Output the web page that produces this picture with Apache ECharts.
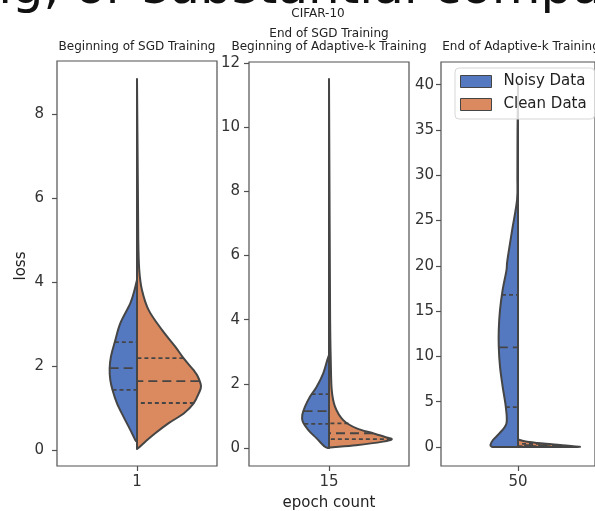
<!DOCTYPE html>
<html>
<head>
<meta charset="utf-8">
<script src="https://cdn.jsdelivr.net/npm/echarts@6/dist/echarts.min.js"></script>
<style>
  html, body { margin: 0; padding: 0; background: #fff; }
  #main { width: 595px; height: 511px; }
</style>
</head>
<body>
<div id="main"></div>
<script>
// epochs and titles
const epochs = ['1', '15', '50'];
const panelTitles = [
  ['Beginning of SGD Training'],
  ['End of SGD Training', 'Beginning of Adaptive-k Training'],
  ['End of Adaptive-k Training']
];
const yTicks = [
  [0, 2, 4, 6, 8],
  [0, 2, 4, 6, 8, 10, 12],
  [0, 5, 10, 15, 20, 25, 30, 35, 40]
];

// violin profiles: loss levels and half widths (x-axis units, 1 = one category)
const noisyLoss1 = [0.2, 0.24, 0.48, 0.79, 1.11, 1.43, 1.67, 1.94, 2.22, 2.58, 3.02, 3.49, 3.8, 4.05];
const noisyWidth1 = [0, 0.011, 0.042, 0.084, 0.125, 0.153, 0.167, 0.171, 0.163, 0.138, 0.104, 0.042, 0.016, 0];
const cleanLoss1 = [0.03, 0.04, 0.2, 0.4, 0.64, 0.87, 1.11, 1.35, 1.52, 1.75, 1.9, 2.18, 2.46, 2.86, 3.33, 3.81, 4.29, 5.0, 6.5, 8.83];
const cleanWidth1 = [0, 0.006, 0.052, 0.114, 0.198, 0.292, 0.354, 0.386, 0.4, 0.38, 0.354, 0.292, 0.239, 0.156, 0.073, 0.031, 0.014, 0.008, 0.005, 0];

const noisyLoss2 = [0, 0.04, 0.3, 0.56, 0.82, 1.03, 1.29, 1.6, 1.91, 2.33, 2.74, 2.9];
const noisyWidth2 = [0, 0.025, 0.077, 0.129, 0.164, 0.167, 0.15, 0.119, 0.077, 0.036, 0.011, 0];
const cleanLoss2 = [0, 0.02, 0.09, 0.2, 0.27, 0.33, 0.46, 0.61, 0.87, 1.29, 1.81, 2.74, 4, 7, 11.5];
const cleanWidth2 = [0, 0.006, 0.169, 0.338, 0.392, 0.36, 0.275, 0.173, 0.089, 0.0375, 0.017, 0.011, 0.007, 0.004, 0];

const noisyLoss3 = [0, 0.22, 0.77, 1.5, 2.6, 4.4, 6.7, 8.9, 11.1, 12.9, 15.1, 17.3, 19.5, 20.6, 24.0, 27.3, 30, 35, 40.2];
const noisyWidth3 = [0.169, 0.179, 0.1625, 0.121, 0.075, 0.079, 0.1, 0.117, 0.125, 0.125, 0.117, 0.1, 0.075, 0.069, 0.0375, 0.006, 0.004, 0.003, 0];
const cleanLoss3 = [0, 0.03, 0.15, 0.3, 0.45, 0.6, 0.8, 0.9];
const cleanWidth3 = [0.38, 0.4, 0.31, 0.22, 0.125, 0.05, 0.006, 0];

// quartiles [q1, median, q3]
const noisyQuart = [[1.43, 1.95, 2.57], [0.75, 1.15, 1.68], [4.4, 11.0, 16.8]];
const cleanQuart = [[1.12, 1.64, 2.19], [0.28, 0.46, 0.77], [0.1, 0.2, 0.35]];

const BLUE = '#5479C1';
const ORANGE = '#DA8A5E';
const EDGE = '#454545';

const noisy = [[noisyLoss1, noisyWidth1], [noisyLoss2, noisyWidth2], [noisyLoss3, noisyWidth3]];
const clean = [[cleanLoss1, cleanWidth1], [cleanLoss2, cleanWidth2], [cleanLoss3, cleanWidth3]];

function widthAt(ys, ws, q) {
  for (let i = 0; i < ys.length - 1; i++) {
    if (q >= ys[i] && q <= ys[i + 1]) {
      const t = (q - ys[i]) / (ys[i + 1] - ys[i]);
      return ws[i] + t * (ws[i + 1] - ws[i]);
    }
  }
  return 0;
}

// smooth path through edge points (catmull-rom -> bezier)
function edgePath(p) {
  let d = '';
  for (let i = 0; i < p.length - 1; i++) {
    const p0 = p[Math.max(i - 1, 0)], p1 = p[i], p2 = p[i + 1], p3 = p[Math.min(i + 2, p.length - 1)];
    const c1 = [p1[0] + (p2[0] - p0[0]) / 6, p1[1] + (p2[1] - p0[1]) / 6];
    const c2 = [p2[0] - (p3[0] - p1[0]) / 6, p2[1] - (p3[1] - p1[1]) / 6];
    d += ' C' + c1[0] + ' ' + c1[1] + ' ' + c2[0] + ' ' + c2[1] + ' ' + p2[0] + ' ' + p2[1];
  }
  return d;
}

function violinHalf(ys, ws, side, quart, color) {
  return function (params, api) {
    const pts = ys.map((y, i) => api.coord([side * ws[i], y]));
    const b = api.coord([0, ys[0]]);
    const t = api.coord([0, ys[ys.length - 1]]);
    const d = 'M' + b[0] + ' ' + b[1] + ' L' + pts[0][0] + ' ' + pts[0][1] + edgePath(pts) +
      ' L' + t[0] + ' ' + t[1] + ' Z';
    const children = [{
      type: 'path',
      shape: { pathData: d },
      style: { fill: color, stroke: EDGE, lineWidth: 2, lineJoin: 'round' }
    }];
    quart.forEach((q, k) => {
      const w = widthAt(ys, ws, q);
      const a = api.coord([side * w, q]);
      const c = api.coord([0, q]);
      children.push({
        type: 'line',
        shape: { x1: a[0], y1: a[1], x2: c[0], y2: c[1] },
        style: { stroke: EDGE, lineWidth: 1.8, lineDash: k === 1 ? [9, 5] : [4, 3], fill: null }
      });
    });
    return { type: 'group', children: children };
  };
}

const grids = [
  { left: 57, top: 61, width: 160, height: 405, range: [-0.38, 9.26], margin: 13 },
  { left: 249, top: 62, width: 160, height: 404, range: [-0.56, 12.03], margin: 9 },
  { left: 441, top: 62, width: 160, height: 404, range: [-2.1, 42.5], margin: 7 }
];

const axisColor = '#505050';
const labelStyle = { color: '#333', fontSize: 15, fontFamily: 'DejaVu Sans' };

const option = {
  animation: false,
  grid: grids.map(g => ({
    left: g.left, top: g.top, width: g.width, height: g.height,
    show: true, borderColor: axisColor, borderWidth: 1.2, backgroundColor: 'transparent'
  })),
  xAxis: grids.map((g, i) => ({
    type: 'value', gridIndex: i, min: -0.5, max: 0.5, position: 'bottom',
    axisLine: { show: false, onZero: false },
    splitLine: { show: false },
    axisTick: { show: true, length: 5, customValues: [0], lineStyle: { color: axisColor, width: 1.2 } },
    axisLabel: Object.assign({ customValues: [0], margin: 9, formatter: () => epochs[i] }, labelStyle)
  })),
  yAxis: grids.map((g, i) => ({
    type: 'value', gridIndex: i, min: g.range[0], max: g.range[1], position: 'left',
    axisLine: { show: false, onZero: false },
    splitLine: { show: false },
    axisTick: { show: true, length: 5, customValues: yTicks[i], lineStyle: { color: axisColor, width: 1.2 } },
    axisLabel: Object.assign({ customValues: yTicks[i], margin: g.margin }, labelStyle)
  })),
  legend: {
    orient: 'vertical', left: 455, top: 68,
    backgroundColor: 'rgba(255,255,255,0.8)',
    borderColor: '#d6d6d6', borderWidth: 1, borderRadius: 4,
    padding: [6, 8, 7, 5], itemGap: 8, itemWidth: 31, itemHeight: 12,
    textStyle: { color: '#222', fontSize: 15, fontFamily: 'DejaVu Sans', lineHeight: 15, padding: [0, 0, 0, 7] },
    selectedMode: false,
    data: [
      { name: 'Noisy Data', icon: 'rect', itemStyle: { color: BLUE, borderColor: EDGE, borderWidth: 1 } },
      { name: 'Clean Data', icon: 'rect', itemStyle: { color: ORANGE, borderColor: EDGE, borderWidth: 1 } }
    ]
  },
  series: [],
  graphic: []
};

for (let i = 0; i < 3; i++) {
  option.series.push({
    type: 'custom', name: 'Noisy Data', xAxisIndex: i, yAxisIndex: i,
    itemStyle: { color: BLUE }, data: [0], clip: true,
    renderItem: violinHalf(noisy[i][0], noisy[i][1], -1, noisyQuart[i], BLUE)
  });
  option.series.push({
    type: 'custom', name: 'Clean Data', xAxisIndex: i, yAxisIndex: i,
    itemStyle: { color: ORANGE }, data: [0], clip: true,
    renderItem: violinHalf(clean[i][0], clean[i][1], 1, cleanQuart[i], ORANGE)
  });
}

function text(str, x, y, size, extra) {
  return Object.assign({
    type: 'text', x: x, y: y, z: 10,
    style: {
      text: str, font: size + 'px "DejaVu Sans"', fill: '#222',
      textAlign: 'center', textVerticalAlign: 'middle', align: 'center', verticalAlign: 'middle'
    }
  }, extra || {});
}

// cropped slide text above the figure
option.graphic.push({
  type: 'text', x: -20, y: 15, z: 5,
  style: {
    text: 'ng, or substantial compa', font: '50px "DejaVu Sans"', fill: '#111',
    textAlign: 'left', textVerticalAlign: 'bottom', align: 'left', verticalAlign: 'bottom'
  }
});
option.graphic.push(text('CIFAR-10', 318, 14, 12));
panelTitles.forEach((lines, i) => {
  const cx = grids[i].left + grids[i].width / 2;
  lines.forEach((ln, k) => {
    option.graphic.push(text(ln, cx, 47 - (lines.length - 1 - k) * 13, 12));
  });
});
option.graphic.push(text('loss', 21, 266, 15, { rotation: Math.PI / 2 }));
option.graphic.push(text('epoch count', 329, 503, 15));

const chart = echarts.init(document.getElementById('main'));
chart.setOption(option);
</script>
</body>
</html>
